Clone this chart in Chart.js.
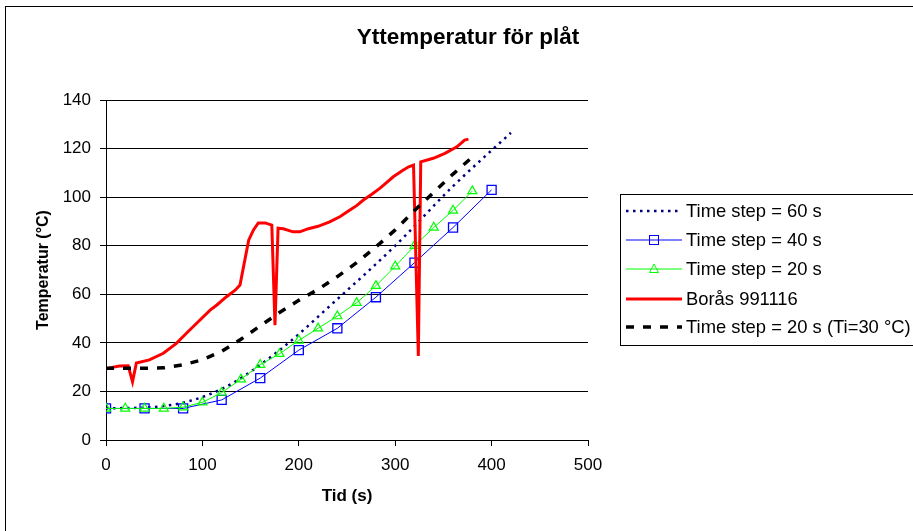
<!DOCTYPE html>
<html>
<head>
<meta charset="utf-8">
<script src="https://cdn.jsdelivr.net/npm/chart.js@4/dist/chart.umd.min.js"></script>
<style>html,body{margin:0;padding:0;background:#fff}</style>
</head>
<body>
<canvas id="yttemp" width="913" height="531"></canvas>
<script>
// tid (s) och yttemperatur (°C) per serie
var tid60 = [0, 60, 120, 180, 240, 300, 360, 420];
var temp60 = [13, 14, 21, 37, 58, 80, 104.5, 126.5];

var tid40 = [0, 40, 80, 120, 160, 200, 240, 280, 320, 360, 400];
var temp40 = [13, 13, 13, 16.5, 25.5, 37, 46, 58.8, 73, 87.5, 103];

var tid20 = [0, 20, 40, 60, 80, 100, 120, 140, 160, 180, 200, 220, 240, 260, 280, 300, 320, 340, 360, 380];
var temp20 = [13, 13, 13, 13, 13.5, 15.5, 19.5, 25, 31, 35.5, 41, 46, 51, 56.5, 63.5, 71.5, 80, 87.5, 94.5, 102.5];

var borasTid = [0, 5, 14, 23, 27.5, 31.5, 45, 59.5, 73, 85, 97.5, 108, 115, 125, 134, 139, 143, 148, 153, 158, 165, 172, 175.3, 178.5, 184, 194, 201, 210, 220, 232, 243, 253, 260, 267, 275, 284, 291, 298, 308, 314, 319, 324, 326.5, 339.5, 351.6, 364, 372, 376];
var borasTemp = [29.2, 29.8, 30.5, 30.6, 24, 31.7, 33, 35.7, 39.8, 44.6, 49.4, 53.5, 55.6, 59, 61.7, 63.8, 72, 82.3, 86.5, 89.4, 89.4, 88.5, 47.3, 87.2, 87, 85.7, 85.7, 87, 88, 89.8, 92, 94.7, 96.5, 98.8, 101, 103.6, 106, 108.4, 111.1, 112.5, 113.2, 34.6, 114.5, 116, 118, 120.7, 123.5, 123.9];

var tidTi30 = [0, 20, 40, 60, 80, 100, 120, 140, 160, 180, 200, 220, 240, 260, 280, 300, 320, 340, 360, 380];
var tempTi30 = [29.5, 29.5, 29.5, 29.7, 31, 33, 36.5, 41.5, 47, 52.5, 57.5, 62, 67.3, 73, 79.5, 86.5, 94.5, 102, 109.5, 116.5];

var serieNamn = ['Time step = 60 s', 'Time step = 40 s', 'Time step = 20 s', 'Borås 991116', 'Time step = 20 s (Ti=30 °C)'];
var xTicks = [0, 100, 200, 300, 400, 500];
var yTicks = [0, 20, 40, 60, 80, 100, 120, 140];

var FONT = 'Liberation Sans, Arial, sans-serif';

function punkter(xs, ys) {
    return xs.map(function (x, i) { return { x: x, y: ys[i] }; });
}

// titel, ram och förklaring ritas för hand (Excel-stil)
var excelRam = {
    id: 'excelRam',
    beforeDraw: function (chart) {
        var ctx = chart.ctx;
        ctx.save();
        ctx.fillStyle = '#fff';
        ctx.fillRect(0, 0, chart.width, chart.height);
        ctx.strokeStyle = '#000';
        ctx.lineWidth = 1;
        ctx.strokeRect(5.5, 6.5, 920, 540);
        ctx.restore();
    },
    afterDraw: function (chart) {
        var ctx = chart.ctx;
        ctx.save();
        ctx.fillStyle = '#000';
        ctx.font = 'bold 22.5px ' + FONT;
        ctx.textAlign = 'center';
        ctx.textBaseline = 'middle';
        ctx.fillText('Yttemperatur för plåt', 468, 38);

        ctx.strokeStyle = '#000';
        ctx.lineWidth = 1;
        ctx.strokeRect(620.5, 194.5, 320, 151);

        var rader = [211, 240, 269, 299, 327];
        chart.data.datasets.forEach(function (ds, i) {
            var y = rader[i];
            ctx.save();
            ctx.strokeStyle = ds.borderColor;
            ctx.lineWidth = ds.borderWidth;
            ctx.setLineDash(ds.borderDash || []);
            ctx.beginPath();
            ctx.moveTo(626, y);
            ctx.lineTo(682, y);
            ctx.stroke();
            ctx.setLineDash([]);
            ctx.lineWidth = 1;
            if (ds.pointStyle === 'rect') {
                ctx.strokeRect(649.5, y - 4.5, 9, 9);
            } else if (ds.pointStyle === 'triangle') {
                ctx.beginPath();
                ctx.moveTo(654, y - 5);
                ctx.lineTo(658.5, y + 3.5);
                ctx.lineTo(649.5, y + 3.5);
                ctx.closePath();
                ctx.stroke();
            }
            ctx.restore();
            ctx.fillStyle = '#000';
            ctx.font = '18.4px ' + FONT;
            ctx.textAlign = 'left';
            ctx.textBaseline = 'middle';
            ctx.fillText(ds.label, 686, y + 1);
        });
        ctx.restore();
    }
};

var ctx = document.getElementById('yttemp').getContext('2d');
var yttempChart = new Chart(ctx, {
    type: 'line',
    data: {
        datasets: [
            {
                label: serieNamn[0],
                data: punkter(tid60, temp60),
                borderColor: '#000080',
                borderWidth: 2.5,
                borderDash: [2.5, 4.5],
                cubicInterpolationMode: 'monotone',
                pointRadius: 0,
                order: 5
            },
            {
                label: serieNamn[1],
                data: punkter(tid40, temp40),
                borderColor: '#0000ff',
                borderWidth: 1,
                pointStyle: 'rect',
                pointRadius: 6.4,
                pointBorderWidth: 1.3,
                pointBorderColor: '#0000ff',
                pointBackgroundColor: 'rgba(0,0,0,0)',
                order: 4
            },
            {
                label: serieNamn[2],
                data: punkter(tid20, temp20),
                borderColor: '#00ff00',
                borderWidth: 1,
                pointStyle: 'triangle',
                pointRadius: 5.2,
                pointBorderWidth: 1.2,
                pointBorderColor: '#00ff00',
                pointBackgroundColor: 'rgba(0,0,0,0)',
                order: 3
            },
            {
                label: serieNamn[3],
                data: punkter(borasTid, borasTemp),
                borderColor: '#ff0000',
                borderWidth: 3,
                pointRadius: 0,
                order: 2
            },
            {
                label: serieNamn[4],
                data: punkter(tidTi30, tempTi30),
                borderColor: '#000000',
                borderWidth: 3.5,
                borderDash: [8, 9],
                pointRadius: 0,
                order: 1
            }
        ]
    },
    plugins: [excelRam],
    options: {
        responsive: false,
        animation: false,
        devicePixelRatio: 1,
        layout: { padding: { left: 30, right: 325, top: 100, bottom: 20.6 } },
        plugins: {
            legend: { display: false },
            tooltip: { enabled: false },
            title: { display: false }
        },
        elements: { line: { tension: 0, fill: false } },
        scales: {
            x: {
                type: 'linear',
                min: 0,
                max: 500,
                afterFit: function (s) { s.height = 70.4; },
                afterBuildTicks: function (s) { s.ticks = xTicks.map(function (v) { return { value: v }; }); },
                grid: { drawOnChartArea: false, drawTicks: true, tickLength: 6, color: '#000', tickColor: '#000' },
                border: { color: '#000', width: 1 },
                ticks: { color: '#000', font: { family: FONT, size: 17 }, padding: 9, maxRotation: 0 },
                title: { display: true, text: 'Tid (s)', color: '#000', font: { family: FONT, size: 17, weight: 'bold' }, padding: { top: 4, bottom: 4 } }
            },
            y: {
                min: 0,
                max: 140,
                afterFit: function (s) { s.width = 76; },
                afterBuildTicks: function (s) { s.ticks = yTicks.map(function (v) { return { value: v }; }); },
                grid: { color: '#000', lineWidth: 1, drawTicks: true, tickLength: 6, tickColor: '#000' },
                border: { color: '#000', width: 1 },
                ticks: { color: '#000', font: { family: FONT, size: 17 }, padding: 9 },
                title: { display: true, text: 'Temperatur (°C)', color: '#000', font: { family: FONT, size: 16, weight: 'bold' }, padding: { top: 4, bottom: 4 } }
            }
        }
    }
});
</script>
</body>
</html>
